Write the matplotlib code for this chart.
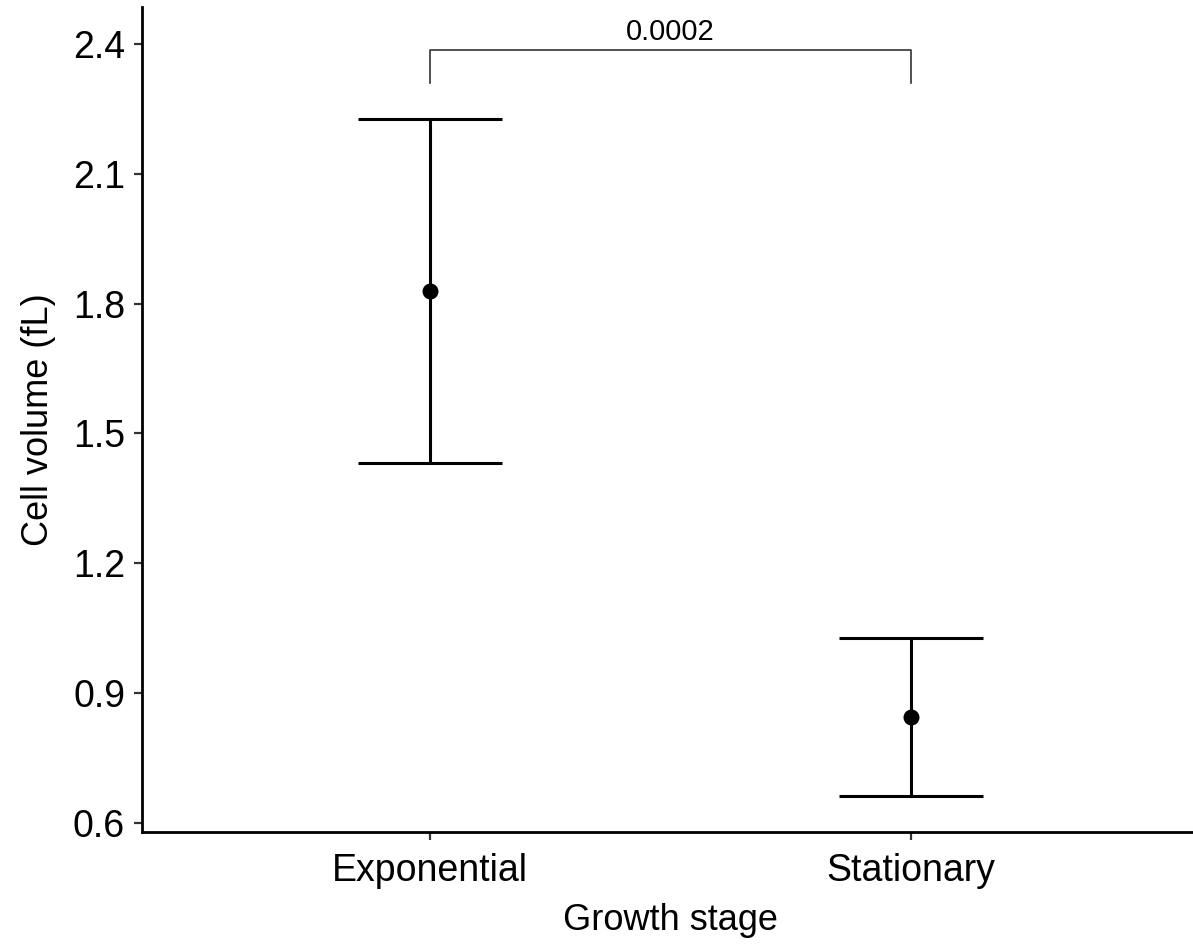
import matplotlib
matplotlib.use("Agg")
import matplotlib.pyplot as plt

categories = ["Exponential", "Stationary"]
means = [1.83, 0.844]
upper = [2.227, 1.026]
lower = [1.431, 0.661]
yticks = [0.6, 0.9, 1.2, 1.5, 1.8, 2.1, 2.4]
p_label = "0.0002"
bracket_y = 2.386
bracket_tip = 2.31

plt.rcParams['font.family'] = ['Liberation Sans', 'DejaVu Sans']

fig = plt.figure(figsize=(11.93, 9.46), dpi=100)
ax = fig.add_axes([0.1188, 0.1202, 0.8867, 0.8724])

x = list(range(1, len(categories) + 1))
for xi, m, lo, hi in zip(x, means, lower, upper):
    ax.plot([xi, xi], [lo, hi], color='black', lw=2.2, solid_capstyle='butt', zorder=2)
    ax.plot([xi - 0.15, xi + 0.15], [hi, hi], color='black', lw=2.2, solid_capstyle='butt', zorder=2)
    ax.plot([xi - 0.15, xi + 0.15], [lo, lo], color='black', lw=2.2, solid_capstyle='butt', zorder=2)
ax.plot(x, means, 'o', color='black', markersize=10.5, zorder=3)

# significance bracket
ax.plot([x[0], x[0], x[1], x[1]], [bracket_tip, bracket_y, bracket_y, bracket_tip],
        color='#333333', lw=1.2)
ax.text((x[0] + x[1]) / 2, bracket_y + 0.01, p_label, ha='center', va='bottom', fontsize=21)

ax.set_xlim(0.4, 2.6)
ax.set_ylim(0.5776, 2.4856)
ax.set_xticks(x)
ax.set_xticklabels(categories)
ax.set_yticks(yticks)
ax.set_yticklabels([f"{t:.1f}" for t in yticks])

for s in ['top', 'right']:
    ax.spines[s].set_visible(False)
for s in ['left', 'bottom']:
    ax.spines[s].set_linewidth(2.0)
ax.tick_params(axis='both', length=6, width=1.6, labelsize=27, pad=6, color='#333333')
ax.tick_params(axis='x', pad=9)

ax.set_xlabel("Growth stage", fontsize=26, labelpad=10)
ax.set_ylabel("Cell volume (fL)", fontsize=26, labelpad=12)

fig.savefig("out.png", dpi=100)
